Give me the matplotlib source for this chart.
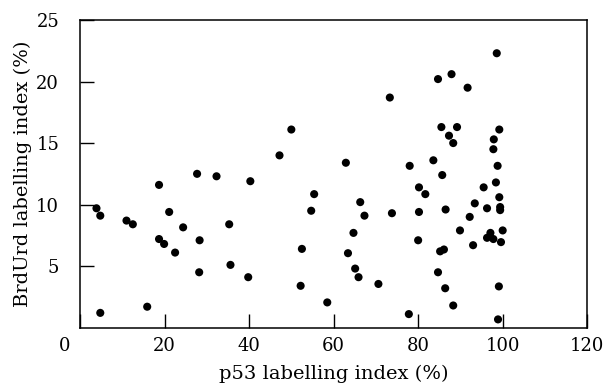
import matplotlib
matplotlib.use("Agg")
import matplotlib.pyplot as plt
import matplotlib.transforms as mtransforms

# values: p53 index (%) vs BrdUrd index (%)
p53 = [3.9, 4.8, 4.8, 11.0, 12.5, 15.9, 18.7, 18.7, 19.9, 21.1,
       22.5, 24.4, 27.7, 28.3, 28.2, 32.3, 35.3, 35.6, 39.8, 40.3,
       47.2, 50.0, 52.5, 52.2, 54.7, 55.4, 58.5, 62.9, 63.4, 64.7,
       65.1, 65.9, 66.3, 67.3, 70.6, 73.3, 73.8, 77.8, 78.0, 80.2,
       81.7, 80.2, 80.0, 83.6, 84.7, 87.9, 91.7, 85.5, 89.2, 87.3,
       88.3, 85.7, 86.5, 85.2, 86.1, 84.7, 86.4, 88.3, 89.9, 92.2,
       93.4, 93.0, 95.5, 98.4, 96.3, 98.6, 99.2, 97.9, 97.8, 98.8,
       99.2, 99.4, 99.4, 97.1, 96.3, 97.8, 100.0, 99.6, 99.1, 98.9]
brdurd = [9.7, 9.1, 1.2, 8.7, 8.4, 1.7, 11.6, 7.2, 6.8, 9.4,
          6.1, 8.15, 12.5, 7.1, 4.5, 12.3, 8.4, 5.1, 4.1, 11.9,
          14.0, 16.1, 6.4, 3.4, 9.5, 10.85, 2.05, 13.4, 6.05, 7.7,
          4.8, 4.1, 10.2, 9.1, 3.55, 18.7, 9.3, 1.1, 13.15, 11.4,
          10.85, 9.4, 7.1, 13.6, 20.2, 20.6, 19.5, 16.3, 16.3, 15.6,
          15.0, 12.4, 9.6, 6.2, 6.35, 4.5, 3.2, 1.8, 7.9, 9.0,
          10.1, 6.7, 11.4, 11.8, 9.7, 22.3, 16.1, 15.3, 14.5, 13.15,
          10.6, 9.8, 9.55, 7.7, 7.3, 7.2, 7.9, 6.95, 3.35, 0.67]

x_ticks = [0, 20, 40, 60, 80, 100, 120]
y_ticks = [5, 10, 15, 20, 25]

plt.rcParams["font.family"] = ["DejaVu Serif"]

fig = plt.figure(figsize=(6.06, 3.85), dpi=100, facecolor="white")
ax = fig.add_axes([0.132, 0.149, 0.837, 0.799])

ax.scatter(p53, brdurd, s=34, color="black", edgecolors="none", zorder=3)

ax.set_xlim(0, 120)
ax.set_ylim(0, 25)
ax.set_xticks(x_ticks)
ax.set_yticks(y_ticks)
ax.tick_params(direction="in", length=10, width=1, labelsize=13, colors="black")
ax.tick_params(axis="x", pad=7)
ax.tick_params(axis="y", pad=15)
for sp in ax.spines.values():
    sp.set_linewidth(1.1)

ax.set_xlabel("p53 labelling index (%)", fontsize=14, labelpad=7)
ax.set_ylabel("BrdUrd labelling index (%)", fontsize=14, labelpad=3)

# the "0" under the axis sits a bit to the left in the original
lbl0 = ax.get_xticklabels()[0]
lbl0.set_transform(lbl0.get_transform() +
                   mtransforms.ScaledTranslation(-0.15, 0, fig.dpi_scale_trans))

fig.savefig("out.png", dpi=100, facecolor="white")
plt.close(fig)
